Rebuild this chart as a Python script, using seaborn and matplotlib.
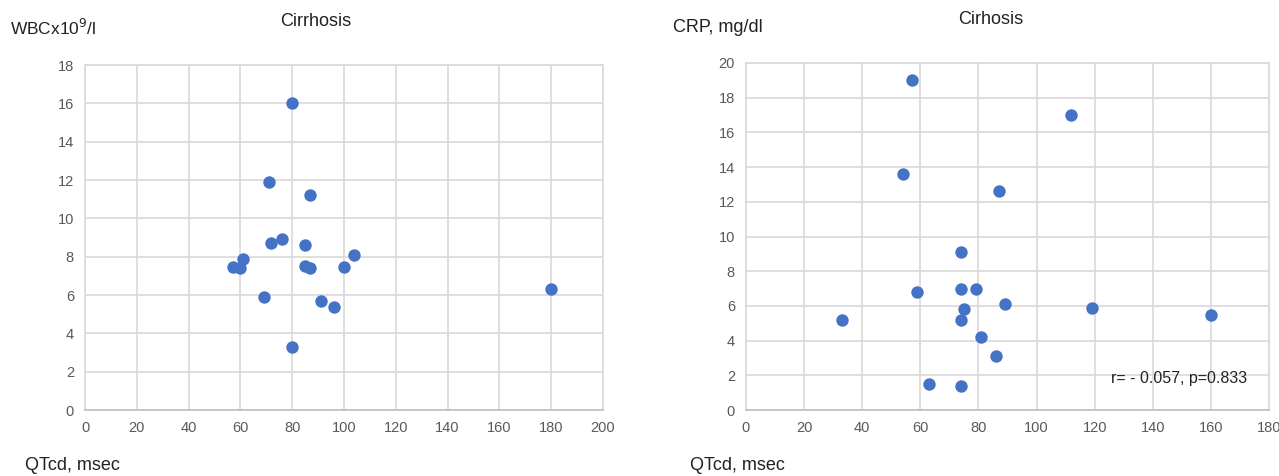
import matplotlib.pyplot as plt
from matplotlib.ticker import MultipleLocator
import pandas
import seaborn

# left panel: QTcd vs WBC
wbc_qtcd = [80, 71, 87, 72, 76, 85, 104, 61, 57, 60, 85, 87, 100, 69, 91, 96, 80, 180]
wbc_vals = [16.0, 11.9, 11.2, 8.7, 8.9, 8.6, 8.1, 7.9, 7.45, 7.4, 7.5, 7.4, 7.45, 5.9, 5.7, 5.4, 3.3, 6.3]

# right panel: QTcd vs CRP
crp_qtcd = [57, 112, 54, 87, 74, 59, 74, 79, 89, 119, 75, 33, 74, 81, 86, 63, 74, 160]
crp_vals = [19.0, 17.0, 13.6, 12.6, 9.1, 6.8, 7.0, 7.0, 6.1, 5.9, 5.8, 5.2, 5.2, 4.2, 3.1, 1.5, 1.4, 5.5]

DOT = "#4472C4"
GRID = "#d9d9d9"
TICK = "#595959"

seaborn.set_style("white")
plt.rcParams['font.family'] = ['Liberation Sans Narrow', 'Liberation Sans', 'DejaVu Sans']

fig = plt.figure(figsize=(12.79, 4.76), dpi=100)
W, H = 1279, 476
ax1 = fig.add_axes([85 / W, 1 - 410 / H, (603 - 85) / W, (410 - 65) / H])
ax2 = fig.add_axes([746 / W, 1 - 410 / H, (1269 - 746) / W, (410 - 63) / H])


def style_axis(ax, xmax, ymax):
    ax.set_xlim(0, xmax)
    ax.set_ylim(0, ymax)
    ax.xaxis.set_major_locator(MultipleLocator(20))
    ax.yaxis.set_major_locator(MultipleLocator(2))
    ax.grid(True, color=GRID, linewidth=1.2)
    ax.set_axisbelow(True)
    for sp in ax.spines.values():
        sp.set_color(GRID)
        sp.set_linewidth(1.2)
    ax.spines['bottom'].set_color("#bfbfbf")
    ax.tick_params(length=0, labelsize=10.5, colors=TICK, pad=8)
    ax.set_xlabel("")
    ax.set_ylabel("")


df1 = pandas.DataFrame({"qtcd": wbc_qtcd, "val": wbc_vals})
seaborn.scatterplot(data=df1, x="qtcd", y="val", ax=ax1, color=DOT, s=80,
                    edgecolor=DOT, linewidth=0)
style_axis(ax1, 200, 18)

df2 = pandas.DataFrame({"qtcd": crp_qtcd, "val": crp_vals})
seaborn.scatterplot(data=df2, x="qtcd", y="val", ax=ax2, color=DOT, s=80,
                    edgecolor=DOT, linewidth=0)
style_axis(ax2, 180, 20)

fig.text(10 / W, 1 - 28 / H, "WBCx10$^{9}$/l", fontsize=12.5, color="#222222", va="center")
fig.text(316 / W, 1 - 22 / H, "Cirrhosis", fontsize=13, color="#222222", ha="center", va="center")
fig.text(25 / W, 1 - 466 / H, "QTcd, msec", fontsize=13, color="#222222", va="center")

fig.text(673 / W, 1 - 27 / H, "CRP, mg/dl", fontsize=13, color="#222222", va="center")
fig.text(991 / W, 1 - 20 / H, "Cirhosis", fontsize=13, color="#222222", ha="center", va="center")
fig.text(690 / W, 1 - 466 / H, "QTcd, msec", fontsize=13, color="#222222", va="center")

fig.text(1111 / W, 1 - 378 / H, "r= - 0.057, p=0.833", fontsize=11.5, color="#222222", va="center")

plt.savefig("out.png", dpi=100)
